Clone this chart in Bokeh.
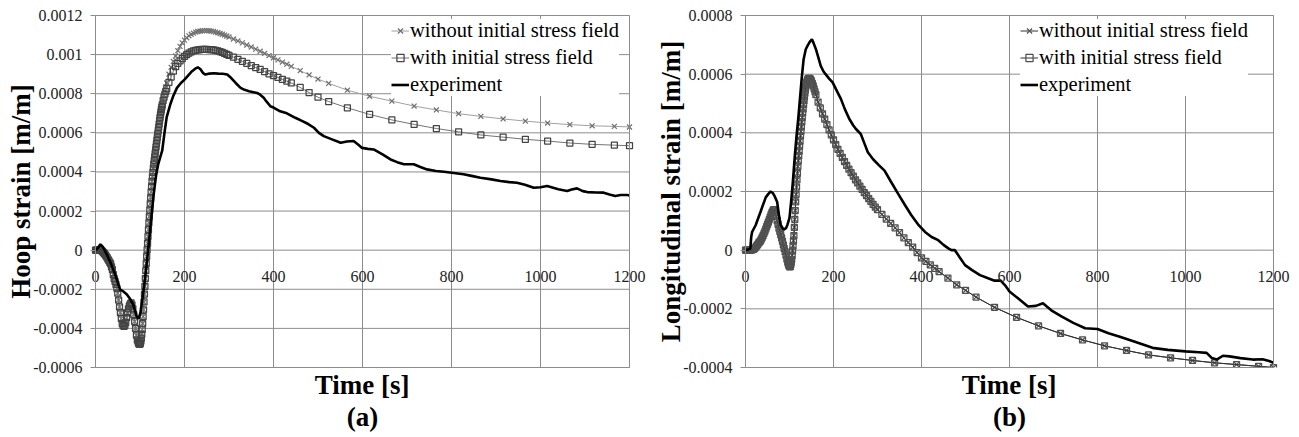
from bokeh.plotting import figure
from bokeh.layouts import row
from bokeh.models import (Range1d, FixedTicker, CustomJSTickFormatter, Legend, LegendItem,
                          Title, LabelSet, ColumnDataSource)
from bokeh.embed import file_html
from bokeh.resources import INLINE

# ------------------------------------------------------------------ data
x_ticks = [0, 200, 400, 600, 800, 1000, 1200]
x_tick_labels = ["0", "200", "400", "600", "800", "1000", "1200"]
hoop_ticks = [-0.0006, -0.0004, -0.0002, 0.0, 0.0002, 0.0004, 0.0006, 0.0008, 0.001, 0.0012]
long_ticks = [-0.0004, -0.0002, 0.0, 0.0002, 0.0004, 0.0006, 0.0008]

# simulation output times [s]
t_sim = [
    0, 2, 4, 6, 8, 10, 12, 14, 16, 18, 20, 22, 24, 26, 28, 30, 32, 34, 36, 38, 40,
    42, 44, 46, 48, 50, 52, 54, 56, 58, 60, 62, 64, 66, 68, 70, 72, 74, 76, 78, 80,
    82, 84, 86, 88, 90, 92, 94,
    96, 97, 98, 99, 100, 101, 102, 103, 104, 105, 106, 107, 108, 109, 110, 111, 112,
    113, 114, 115, 116, 117, 118, 119, 120, 121, 122, 123, 124, 125, 126, 127, 128,
    129, 130, 131, 132, 133, 134, 135, 136, 137, 138, 139, 140, 141, 142, 143, 144,
    145, 146, 147, 148, 149, 150,
    152, 154, 156, 158, 160,
    165, 170, 175, 180, 185, 190, 195, 200, 205, 210, 215, 220, 225, 230, 235, 240,
    245, 250, 255, 260, 265, 270, 275, 280, 285, 290, 295, 300,
    310, 320, 330, 340, 350, 360, 370, 380, 390, 400, 410, 420, 430, 440,
    460, 480, 500, 524,
    566, 616, 666, 716, 766, 816, 866, 916, 966, 1016, 1066, 1116, 1166,
    1200,
]

# hoop strain, microstrain
hoop_without_ue = [
    0, 0, 0, 0, 2, 2, 0, -3, -8, -12, -18, -24, -30, -38, -46, -54, -62, -70, -85, -100, -125,
    -145, -160, -175, -195, -220, -255, -290, -320, -350, -375, -385, -390, -385, -370, -345,
    -320, -300, -285, -275, -270, -280, -300, -330, -365, -400, -435, -460,
    -472, -477, -480, -481, -480, -475, -465, -450, -430, -405, -375, -340, -305, -265, -225,
    -185, -145, -105, -68, -32, 2, 35, 70, 105, 140, 172, 205, 237, 268, 298, 325, 352, 375,
    398, 420, 440, 458, 476, 494, 511, 528, 545, 562, 578, 595, 612, 628, 645, 662,
    678, 695, 710, 724, 737, 750,
    772, 793, 814, 835, 855,
    900, 935, 965, 993, 1020, 1042, 1060, 1074, 1086, 1096, 1104, 1110, 1115, 1118, 1120, 1122,
    1123, 1123, 1122, 1120, 1118, 1115, 1112, 1108, 1104, 1100, 1095, 1090,
    1080, 1070, 1060, 1049, 1039, 1028, 1017, 1006, 995, 984, 973, 962, 951, 940,
    918, 896, 875, 853,
    818, 787, 762, 737, 717, 698, 684, 671, 660, 650, 642, 636, 633,
    630,
]
hoop_with_ue = [
    0, 0, 0, 0, 2, 2, 0, -3, -8, -12, -18, -24, -30, -38, -46, -54, -62, -70, -85, -100, -125,
    -145, -160, -175, -195, -220, -255, -290, -320, -350, -375, -385, -390, -385, -370, -345,
    -320, -300, -285, -275, -270, -280, -300, -330, -365, -400, -435, -460,
    -472, -477, -480, -481, -480, -475, -465, -450, -430, -405, -375, -340, -305, -265, -225,
    -185, -145, -105, -68, -32, 2, 35, 70, 105, 140, 172, 205, 237, 268, 298, 325, 352, 375,
    398, 420, 440, 458, 476, 494, 511, 528, 545, 562, 578, 595, 612, 628, 645, 662,
    678, 693, 706, 719, 731, 743,
    765, 782, 798, 812, 826,
    858, 885, 915, 938, 955, 968, 980, 991, 1000, 1008, 1014, 1019, 1022, 1024, 1026, 1027,
    1027, 1027, 1026, 1025, 1024, 1022, 1019, 1015, 1011, 1006, 1001, 996,
    987, 976, 966, 955, 944, 934, 924, 913, 902, 893, 883, 873, 864, 855,
    832, 806, 782, 760,
    728, 694, 666, 643, 622, 605, 589, 578, 567, 558, 548, 541, 537,
    534,
]

t_exp_a = [
    0, 5, 11, 17, 25, 35, 45, 55, 62, 70, 78, 85, 92, 97, 101, 106, 111, 116, 121, 126,
    131, 136, 141, 146, 150, 155, 160, 168, 175, 183, 192, 200, 209, 217, 224, 230, 236,
    242, 247, 256, 266, 276, 286, 296, 305, 315, 326, 335, 345, 355, 363, 370, 378, 385,
    393, 401, 415, 430, 449, 465, 478, 491, 502, 513, 530, 551, 565, 580, 590, 599, 612,
    625, 645, 663, 678, 693, 715, 730, 745, 765, 783, 805, 827, 845, 865, 890, 910, 930,
    947, 965, 985, 1000, 1015, 1040, 1060, 1070, 1082, 1095, 1105, 1125, 1142, 1155, 1168,
    1180, 1195, 1200,
]
hoop_exp_ue = [
    0, 10, 30, 15, -20, -70, -130, -200, -210, -225, -250, -280, -335, -350, -320, -240,
    -150, -50, 60, 180, 290, 380, 440, 480, 510, 600, 680, 745, 790, 830, 855, 872, 895,
    915, 928, 935, 925, 905, 898, 903, 905, 903, 902, 898, 880, 855, 830, 820, 813, 808,
    804, 795, 779, 758, 736, 728, 710, 700, 677, 660, 645, 626, 600, 583, 568, 549, 556,
    558, 540, 523, 518, 515, 490, 464, 450, 439, 439, 425, 413, 405, 401, 395, 388, 380,
    370, 362, 354, 348, 345, 335, 319, 322, 328, 312, 303, 310, 316, 302, 297, 295, 294,
    285, 277, 282, 282, 280,
]

# longitudinal strain, microstrain
long_with_ue = [
    0, 0, 0, 0, 0, 0, 0, 1, 2, 3, 5, 8, 12, 16, 20, 25, 28, 32, 38, 44, 50,
    57, 64, 72, 80, 88, 96, 104, 113, 121, 128, 134, 138, 137, 128, 115,
    100, 88, 75, 64, 53, 42, 30, 18, 6, -5, -17, -30,
    -40, -45, -50, -53, -56, -57, -55, -50, -42, -32, -18, -2, 15, 32, 50, 78, 105,
    135, 165, 190, 215, 240, 262, 285, 305, 322, 338, 355, 372, 390, 405, 420, 437,
    452, 468, 482, 496, 510, 522, 535, 546, 556, 564, 571, 576, 580, 583, 585, 586,
    586, 585, 583, 581, 578, 575,
    568, 560, 550, 540, 530,
    505, 485, 465, 447, 428, 410, 393, 376, 360, 344, 330, 316, 302, 289, 276, 264,
    252, 240, 229, 218, 207, 196, 186, 176, 166, 156, 147, 138,
    122, 106, 91, 76, 60, 42, 26, 10, -8, -26, -38, -50, -62, -73,
    -95, -118, -137, -160,
    -195, -229, -258, -284, -306, -326, -342, -357, -367, -376, -384, -390, -396,
    -400,
]
# the two simulations coincide in panel (b)
long_without_ue = list(long_with_ue)

t_exp_b = [
    0, 11, 13, 15, 23, 34, 46, 52, 57, 62, 66, 72, 76, 80, 87, 92, 95, 100, 104, 108,
    112, 116, 120, 124, 128, 132, 137, 142, 147, 151, 155, 160, 165, 171, 177, 182, 190,
    198, 207, 217, 226, 236, 245, 251, 262, 270, 278, 290, 303, 316, 330, 347, 362, 377,
    392, 408, 423, 438, 450, 461, 468, 476, 487, 499, 515, 533, 550, 566, 580, 590, 600,
    620, 642, 660, 676, 695, 718, 745, 772, 800, 825, 849, 885, 925, 960, 1000, 1030,
    1048, 1060, 1071, 1085, 1100, 1125, 1153, 1175, 1190, 1200,
]
long_exp_ue = [
    0, 5, 45, 62, 85, 130, 180, 192, 200, 195, 185, 164, 120, 85, 70, 75, 85, 110, 170,
    240, 320, 390, 450, 520, 590, 650, 685, 700, 712, 719, 705, 685, 660, 628, 610, 600,
    585, 572, 545, 515, 480, 447, 425, 413, 396, 365, 334, 310, 290, 271, 235, 192, 155,
    119, 88, 62, 45, 34, 18, 6, 0, 0, -25, -51, -68, -85, -95, -104, -104, -120, -141,
    -165, -192, -190, -181, -205, -226, -248, -266, -269, -283, -294, -312, -333, -340,
    -345, -348, -350, -368, -373, -360, -362, -368, -373, -372, -378, -384,
]

# ------------------------------------------------------------------ style
SERIF = "Liberation Serif"
GRID = "#8c8c8c"
PAD_L = 5    # px of frame left of t = 0 (room for the outward y ticks and the "0" label)
PAD_R = 17   # px of frame right of t = 1200 (room for the "1200" label)
TITLE_PX = 27


def strain(values):
    return [v * 1e-6 for v in values]


def centered_title(text, em_width, plot_px):
    # left-aligned title shifted so that it is centred on the data area
    offset = PAD_L + plot_px / 2 - em_width * TITLE_PX / 2
    return Title(text=text, align="left", offset=offset, text_font=SERIF,
                 text_font_size=f"{TITLE_PX}px", text_font_style="bold",
                 text_color="black", standoff=0)


def make_panel(ylabel, letter, letter_em, yticks, sims, t_exp, exp, plot_px, width, height,
               border_left, border_top, border_right, legend_location):
    per_px = (x_ticks[-1] - x_ticks[0]) / plot_px
    p = figure(width=width, height=height,
               x_range=Range1d(x_ticks[0] - PAD_L * per_px, x_ticks[-1] + PAD_R * per_px),
               y_range=Range1d(yticks[0], yticks[-1]),
               output_backend="svg", toolbar_location=None,
               min_border_left=border_left, min_border_right=border_right,
               min_border_top=border_top, min_border_bottom=68,
               outline_line_color=None,
               background_fill_color="white", border_fill_color="white")

    # vertical grid lines (library grid), horizontal ones limited to the data extent
    p.xgrid.ticker = FixedTicker(ticks=x_ticks)
    p.xgrid.grid_line_color = GRID
    p.xgrid.grid_line_width = 1
    p.ygrid.visible = False
    p.segment(x0=x_ticks[0], x1=x_ticks[-1], y0=yticks, y1=yticks,
              line_color=GRID, line_width=1, level="underlay")
    # plot-area border, drawn above the legend box
    p.quad(left=x_ticks[0], right=x_ticks[-1], bottom=yticks[0], top=yticks[-1],
           fill_color=None, line_color=GRID, line_width=1, level="overlay")

    # x axis sits on the zero line; its labels are drawn as a label set
    p.xaxis[0].visible = False
    src = ColumnDataSource(dict(x=x_ticks, y=[0.0] * len(x_ticks), text=x_tick_labels))
    p.add_layout(LabelSet(x="x", y="y", text="text", source=src, y_offset=-21,
                          text_align="center", text_baseline="top",
                          text_font=SERIF, text_font_size="16px",
                          text_color="#222222"))

    ya = p.yaxis[0]
    ya.ticker = FixedTicker(ticks=yticks)
    ya.formatter = CustomJSTickFormatter(code="return String(Number(tick.toFixed(4)));")
    ya.axis_line_color = None
    ya.major_tick_line_color = GRID
    ya.major_tick_in = PAD_L
    ya.major_tick_out = 0
    ya.minor_tick_line_color = None
    ya.major_label_standoff = 8
    ya.major_label_text_font = SERIF
    ya.major_label_text_font_size = "16px"
    ya.major_label_text_color = "#222222"
    ya.axis_label = ylabel
    ya.axis_label_text_font = SERIF
    ya.axis_label_text_font_size = "27px"
    ya.axis_label_text_font_style = "bold"
    ya.axis_label_text_color = "black"
    ya.axis_label_standoff = -6

    items = []
    for label, values, lcol, mcol, marker, msize in sims:
        ys = strain(values)
        ln = p.line(t_sim, ys, line_color=lcol, line_width=1)
        sc = p.scatter(t_sim, ys, marker=marker, size=msize, line_color=mcol,
                       fill_color=None, line_width=1.25)
        items.append(LegendItem(label=label, renderers=[ln, sc]))
    el = p.line(t_exp, strain(exp), line_color="black", line_width=2.6)
    items.append(LegendItem(label="experiment", renderers=[el]))

    legend = Legend(items=items, location=legend_location, margin=0, padding=5,
                    spacing=4, glyph_width=18, glyph_height=23, label_height=23,
                    label_standoff=1, label_text_font=SERIF,
                    label_text_font_size="20.5px", label_text_color="black",
                    border_line_color=None, background_fill_color="white",
                    background_fill_alpha=1)
    p.add_layout(legend)

    p.add_layout(centered_title("Time [s]", 3.53, plot_px), "below")
    p.add_layout(centered_title(letter, letter_em, plot_px), "below")
    return p


p1 = make_panel(
    "Hoop strain [m/m]", "(a)", 1.17, hoop_ticks,
    [("without initial stress field", hoop_without_ue, "#a0a0a0", "#707070", "x", 7),
     ("with initial stress field", hoop_with_ue, "#737373", "#444444", "square", 6)],
    t_exp_a, hoop_exp_ue, 534, 650, 435, 90, 15, 4, (301, 271))

p2 = make_panel(
    "Longitudinal strain [m/m]", "(b)", 1.22, long_ticks,
    [("without initial stress field", long_without_ue, "#333333", "#555555", "x", 7),
     ("with initial stress field", long_with_ue, "#333333", "#505050", "square", 6)],
    t_exp_b, long_exp_ue, 528, 645, 435, 90, 14, 5, (280, 271))

layout = row(p1, p2)
open("out.html", "w").write(file_html(layout, INLINE))
